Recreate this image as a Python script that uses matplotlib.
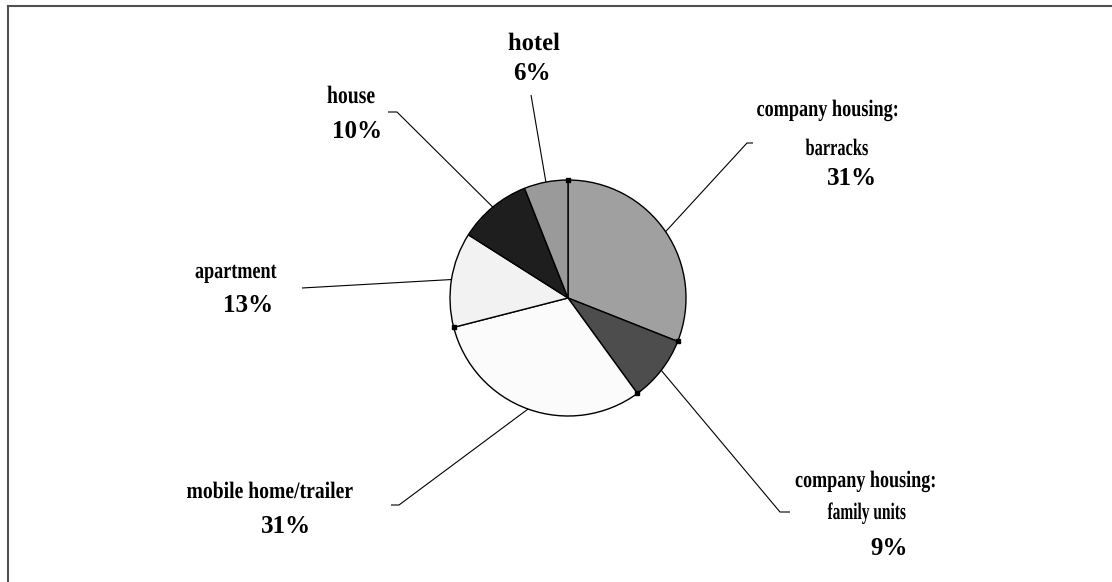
import numpy as np
import matplotlib.pyplot as plt
from matplotlib import patheffects as pe
from matplotlib.transforms import Affine2D

# housing type shares (%), clockwise from 12 o'clock
names = [
    ["company housing:", "barracks"],
    ["company housing:", "family units"],
    ["mobile home/trailer"],
    ["apartment"],
    ["house"],
    ["hotel"],
]
shares = [31, 9, 31, 13, 10, 6]
colors = ["#a0a0a0", "#4d4d4d", "#fbfbfb", "#f2f2f2", "#1e1e1e", "#9a9a9a"]

W, H = 1112, 582
cx, cy, R = 568, 298, 118

# label layout in pixels: (x centre, baseline, squeezed width) per name line
name_pos = [
    [(828, 116, 143), (837, 155, 63)],
    [(866, 487, 142), (867, 519, 79)],
    [(270, 498, 167)],
    [(236, 278, 82)],
    [(351, 103, 48)],
    [(534, 50, 52)],
]
name_size = [17, 17, 17, 17, 18, 18]
pct_pos = [(852, 185), (889, 555), (286, 533), (248, 312), (357, 138), (532, 80)]
leaders = [
    [(747, 143), (753, 143)],
    [(780, 512), (790, 512)],
    [(399, 505), (391, 505)],
    [(302, 288)],
    [(397, 112), (388, 112)],
    [(531, 95)],
]


class Squeeze(pe.AbstractPathEffect):
    """Narrow the glyphs horizontally around the text anchor."""

    def __init__(self, anchor_x):
        super().__init__()
        self.sx = 1.0
        self.anchor_x = anchor_x

    def draw_path(self, renderer, gc, tpath, affine, rgbFace=None):
        x0 = self.anchor_x()
        sq = Affine2D().translate(-x0, 0).scale(self.sx, 1).translate(x0, 0)
        renderer.draw_path(gc, tpath, affine + sq, rgbFace)


fig = plt.figure(figsize=(W / 100, H / 100), dpi=100)
ax = fig.add_axes([0, 0, 1, 1])

# y axis runs downward, so counterclockwise in data is clockwise on screen
ax.pie(shares, colors=colors, startangle=-90, counterclock=True,
       center=(cx, cy), radius=R,
       wedgeprops=dict(edgecolor="black", linewidth=1.0))
ax.set_xlim(0, W)
ax.set_ylim(H, 0)
ax.set_aspect("auto")
ax.axis("off")

frac = np.cumsum(shares) / np.sum(shares)
starts = np.concatenate([[0], frac[:-1]])
mids = (starts + frac) / 2


def edge(f, r=R):
    a = 2 * np.pi * f
    return cx + r * np.sin(a), cy - r * np.cos(a)


# leader lines from slice edge to label
for m, pts in zip(mids, leaders):
    xs, ys = zip(edge(m), *pts)
    ax.plot(xs, ys, color="black", lw=0.8, solid_capstyle="butt")

# little handles on the slice boundaries
for f in [0, frac[0], frac[1], frac[2]]:
    x, y = edge(f)
    ax.plot(x, y, "s", ms=3, color="black")

font = dict(family="Liberation Serif", weight="bold", ha="center", va="baseline")
squeezed = []
for i, (lines, pos) in enumerate(zip(names, name_pos)):
    for txt, (x, y, w) in zip(lines, pos):
        eff = Squeeze(lambda x=x, y=y: ax.transData.transform((x, y))[0])
        t = ax.text(x, y, txt, fontsize=name_size[i], path_effects=[eff], **font)
        squeezed.append((t, eff, w))
    px, py = pct_pos[i]
    ax.text(px, py, f"{shares[i]}%", fontsize=18, **font)

renderer = fig.canvas.get_renderer()
for t, eff, w in squeezed:
    natural = t.get_window_extent(renderer).width
    eff.sx = min(1.0, w / natural)

# frame edges along top and left
ax.plot([8, W], [6, 6], color="#505050", lw=1.5, clip_on=False)
ax.plot([8, 8], [6, H], color="#505050", lw=1.5, clip_on=False)

fig.savefig("out.png", dpi=100, facecolor="white")
